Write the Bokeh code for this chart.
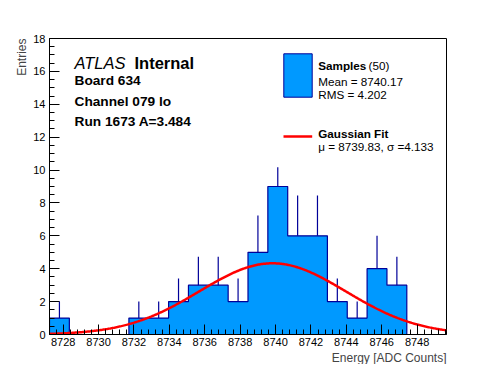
import numpy as np
from bokeh.plotting import figure
from bokeh.models import SingleIntervalTicker, Label, Title, Range1d
from bokeh.embed import file_html
from bokeh.resources import INLINE

# ---------------- data ----------------
bin_counts = [1, 0, 0, 0, 1, 1, 2, 3, 3, 2, 5, 9, 6, 6, 2, 1, 4, 3, 0, 0]
bin_errors = [1.0, 0, 0, 0, 1.0, 1.0, 1.41, 1.73, 1.73, 1.41, 2.24, 3.0, 2.45, 2.45, 1.41, 1.0, 2.0, 1.73, 0, 0]
hist_range = [8727.23, 8749.66]
y_range = [0, 18]
x_ticks = [8728, 8730, 8732, 8734, 8736, 8738, 8740, 8742, 8744, 8746, 8748]
y_ticks = [0, 2, 4, 6, 8, 10, 12, 14, 16, 18]
fit_mu = 8739.83
fit_sigma = 4.133
fit_amp = 4.33
n_samples = 50
sample_mean = 8740.17
sample_rms = 4.202
info_lines = ["Board 634", "Channel 079 lo", "Run 1673 A=3.484"]
x_title = "Energy [ADC Counts]"
y_title = "Entries"

# ---------------- layout / style ----------------
FONT = "Liberation Sans"
FILL = "#0099ff"
EDGE = "#000099"
RED = "#ff0000"
FL, FT, FW, FH = 49, 38, 397, 296      # frame position in page pixels
PAGE_W, PAGE_H = 496, 372


def dx(px):
    return hist_range[0] + (px - FL) / FW * (hist_range[1] - hist_range[0])


def dy(py):
    return y_range[1] - (py - FT) / FH * (y_range[1] - y_range[0])


p = figure(frame_width=FW, frame_height=FH,
           min_border_left=FL, min_border_top=FT,
           min_border_right=PAGE_W - FL - FW - 16,
           min_border_bottom=PAGE_H - FT - FH - 16,
           x_range=Range1d(*hist_range), y_range=Range1d(*y_range),
           output_backend="svg", toolbar_location=None)
p.xgrid.visible = False
p.ygrid.visible = False
p.outline_line_color = "black"
p.outline_line_width = 1
p.outline_line_alpha = 1
p.background_fill_color = "white"
p.border_fill_color = "white"

p.xaxis.ticker = SingleIntervalTicker(interval=x_ticks[1] - x_ticks[0], num_minor_ticks=5)
p.yaxis.ticker = SingleIntervalTicker(interval=y_ticks[1] - y_ticks[0], num_minor_ticks=4)
for ax in (p.xaxis[0], p.yaxis[0]):
    ax.major_tick_in = 10
    ax.major_tick_out = 0
    ax.minor_tick_in = 5
    ax.minor_tick_out = 0
    ax.major_tick_line_color = "black"
    ax.minor_tick_line_color = "black"
    ax.axis_line_color = "black"
    ax.major_label_text_font = FONT
    ax.major_label_text_font_size = "11px"
    ax.major_label_text_color = "black"
p.xaxis.major_label_standoff = 3
p.yaxis.major_label_standoff = 4

p.add_layout(Title(text=x_title, align="right", text_font=FONT, text_font_size="12px",
                   text_font_style="normal", standoff=0), "below")
p.add_layout(Title(text=y_title, align="right", text_font=FONT, text_font_size="12px",
                   text_font_style="normal", standoff=4), "left")

# ---------------- histogram ----------------
edges = np.linspace(hist_range[0], hist_range[1], len(bin_counts) + 1)
centers = 0.5 * (edges[:-1] + edges[1:])
y2 = list(bin_counts) + [bin_counts[-1]]
p.varea_step(x=list(edges), y1=[0] * len(edges), y2=y2, step_mode="after",
             fill_color=FILL)
p.step(x=[edges[0]] + list(edges), y=[0] + list(bin_counts) + [0], mode="after",
       line_color=EDGE, line_width=1.2)

ex = [c for c, n in zip(centers, bin_counts) if n > 0]
e0 = [n for n in bin_counts if n > 0]
e1 = [n + e for n, e in zip(bin_counts, bin_errors) if n > 0]
p.segment(x0=ex, y0=e0, x1=ex, y1=e1, line_color=EDGE, line_width=1.2)

# ---------------- gaussian fit ----------------
xs = np.linspace(hist_range[0], hist_range[1], 400)
ys = fit_amp * np.exp(-0.5 * ((xs - fit_mu) / fit_sigma) ** 2)
p.line(xs, ys, line_color=RED, line_width=2.5)

# ---------------- legend ----------------
p.quad(left=dx(270), right=dx(441), top=dy(39), bottom=dy(166.7),
       fill_color="white", line_color=None)
p.quad(left=dx(283.3), right=dx(311.7), top=dy(53.3), bottom=dy(96.7),
       fill_color=FILL, line_color=EDGE, line_width=1)
p.line([dx(283), dx(311.7)], [dy(136), dy(136)], line_color=RED, line_width=2.5)


def lab(px, py, text, size, style="normal"):
    p.add_layout(Label(x=dx(px), y=dy(py), text=text, text_font=FONT,
                       text_font_size=size, text_font_style=style,
                       text_baseline="alphabetic", text_align="left",
                       text_color="black"))


lab(317.7, 65, "Samples", "11.7px", "bold")
lab(368, 65, "(%d)" % n_samples, "11.7px")
lab(317.7, 80.5, "Mean = %.2f" % sample_mean, "11.7px")
lab(317.7, 94, "RMS = %.3f" % sample_rms, "11.7px")
lab(317.7, 133.3, "Gaussian Fit", "11.7px", "bold")
lab(317.7, 145.5, "\u03bc = %.2f, \u03c3 =%.3f" % (fit_mu, fit_sigma), "11.7px")

# ---------------- ATLAS block ----------------
lab(74, 62, "ATLAS", "16.5px", "italic")
lab(134, 62, "Internal", "16.5px", "bold")
for py, t in zip([80, 101, 121], info_lines):
    lab(74, py, t, "13.7px", "bold")

open("out.html", "w").write(file_html(p, INLINE))
